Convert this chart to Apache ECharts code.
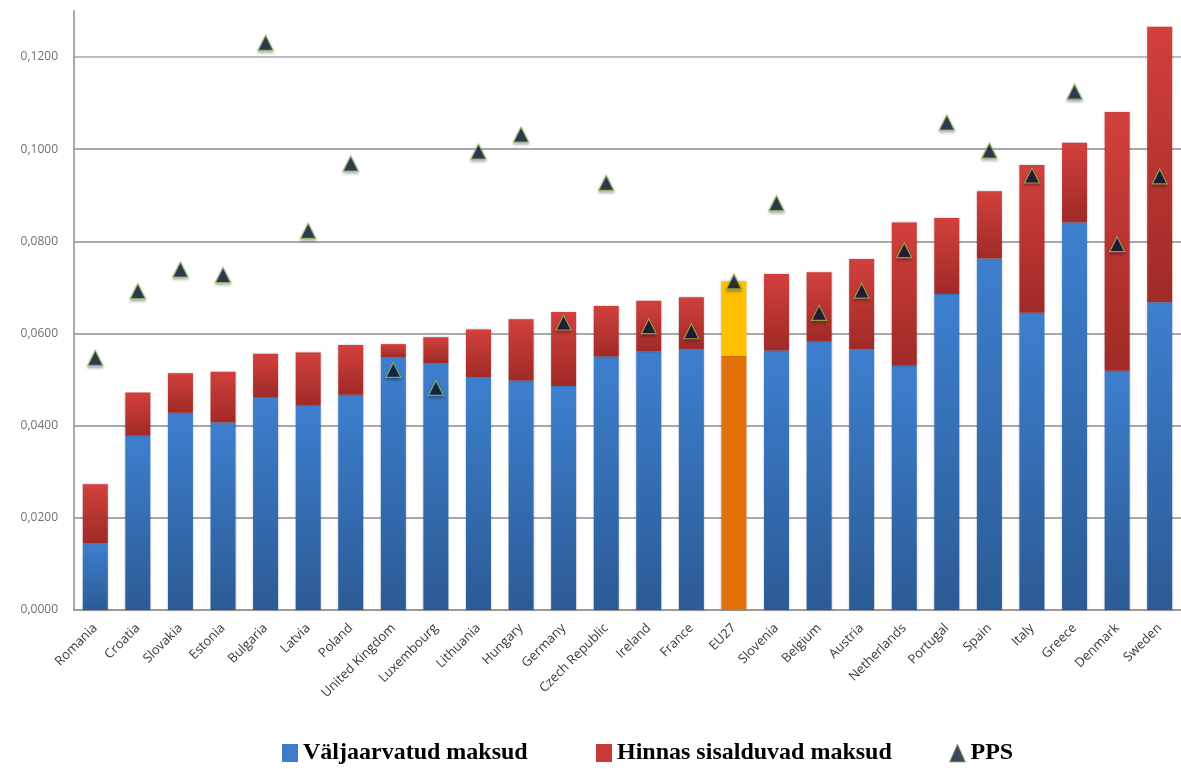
<!DOCTYPE html>
<html>
<head>
<meta charset="utf-8">
<script src="https://cdn.jsdelivr.net/npm/echarts@6/dist/echarts.min.js"></script>
<style>
html,body{margin:0;padding:0;background:#fff;}
#chart{width:1181px;height:769px;}
</style>
</head>
<body>
<div id="chart"></div>
<script>
const categories = ['Romania','Croatia','Slovakia','Estonia','Bulgaria','Latvia','Poland','United Kingdom','Luxembourg','Lithuania','Hungary','Germany','Czech Republic','Ireland','France','EU27','Slovenia','Belgium','Austria','Netherlands','Portugal','Spain','Italy','Greece','Denmark','Sweden'];
const excludedTaxes = [0.0145,0.0378,0.0428,0.0407,0.0462,0.0445,0.0467,0.0548,0.0535,0.0505,0.0498,0.0486,0.0550,0.0561,0.0566,0.0552,0.0563,0.0584,0.0566,0.0530,0.0686,0.0763,0.0645,0.0841,0.0519,0.0668];
const includedTaxes = [0.0128,0.0094,0.0086,0.0110,0.0094,0.0114,0.0108,0.0029,0.0057,0.0104,0.0133,0.0161,0.0110,0.0110,0.0113,0.0161,0.0166,0.0149,0.0196,0.0311,0.0165,0.0146,0.0321,0.0173,0.0562,0.0598];
const pps = [0.0547,0.0692,0.0739,0.0727,0.1231,0.0823,0.0969,0.0521,0.0482,0.0995,0.1032,0.0624,0.0927,0.0616,0.0605,0.0713,0.0883,0.0645,0.0693,0.0781,0.1058,0.0997,0.0943,0.1125,0.0794,0.0941];
const yTicks = [0,0.02,0.04,0.06,0.08,0.10,0.12];

const names = ['Väljaarvatud maksud','Hinnas sisalduvad maksud','PPS'];

function grad(top, bottom){
  return new echarts.graphic.LinearGradient(0,0,0,1,[{offset:0,color:top},{offset:1,color:bottom}]);
}
const blueGrad = grad('#3d7fcf','#2c5b95');
const redGrad = grad('#d2403d','#9f2a27');

const blueData = excludedTaxes.map((v,i)=> categories[i]==='EU27'
  ? {value:v, itemStyle:{color:'#e4700c'}} : v);
const redData = includedTaxes.map((v,i)=> categories[i]==='EU27'
  ? {value:v, itemStyle:{color:'#ffc000'}} : v);

const chart = echarts.init(document.getElementById('chart'));
const legendText = {fontFamily:'Liberation Serif', fontWeight:'bold', fontSize:24, color:'#000'};
chart.setOption({
  animation:false,
  backgroundColor:'#fff',
  grid:{left:74, top:11, width:1111, bottom:159},
  legend:[
    {data:[{name:names[0], icon:'rect', itemStyle:{color:'#3b7dcc'}}], left:277, top:736, itemWidth:16, itemHeight:18, itemGap:8, textStyle:legendText},
    {data:[{name:names[1], icon:'rect', itemStyle:{color:'#c9393a'}}], left:591, top:736, itemWidth:16, itemHeight:18, textStyle:legendText},
    {data:[{name:names[2], icon:'triangle', itemStyle:{color:'#0a1a3a', borderColor:'#9bbb59', borderWidth:1}}], left:944, top:736, itemWidth:16, itemHeight:18, textStyle:legendText}
  ],
  xAxis:{
    type:'category', data:categories,
    axisLine:{lineStyle:{color:'#9a9a9a', width:2}},
    axisTick:{show:false},
    axisLabel:{rotate:45, interval:0, margin:16, color:'#383838', fontFamily:'Open Sans', fontSize:13}
  },
  yAxis:{
    type:'value', min:0, max:0.13, interval:0.02,
    axisLine:{show:true, lineStyle:{color:'#a8a8a8', width:2}},
    axisTick:{show:false},
    axisLabel:{showMaxLabel:false, margin:16, color:'#707070', fontFamily:'Open Sans', fontSize:12,
      formatter:v=> v>0.125 ? '' : v.toFixed(4).replace('.',',')},
    splitLine:{lineStyle:{color:['#a8a8a8','#a8a8a8','#a8a8a8','#a8a8a8','#a8a8a8','#a8a8a8','#bcbcbc','rgba(0,0,0,0)'], width:2}}
  },
  series:[
    {name:names[0], type:'bar', stack:'t', data:blueData, barWidth:25,
      itemStyle:{color:blueGrad, shadowColor:'rgba(0,0,0,0.25)', shadowBlur:2}},
    {name:names[1], type:'bar', stack:'t', data:redData, barWidth:25,
      itemStyle:{color:redGrad, shadowColor:'rgba(0,0,0,0.25)', shadowBlur:2}},
    {name:names[2], type:'scatter', data:pps, symbol:'triangle', symbolSize:[15,15], z:5,
      itemStyle:{color:'#0a1a3a', borderColor:'#9bbb59', borderWidth:1.2, shadowColor:'rgba(0,0,0,0.35)', shadowBlur:3, shadowOffsetY:2}}
  ]
});
</script>
</body>
</html>
